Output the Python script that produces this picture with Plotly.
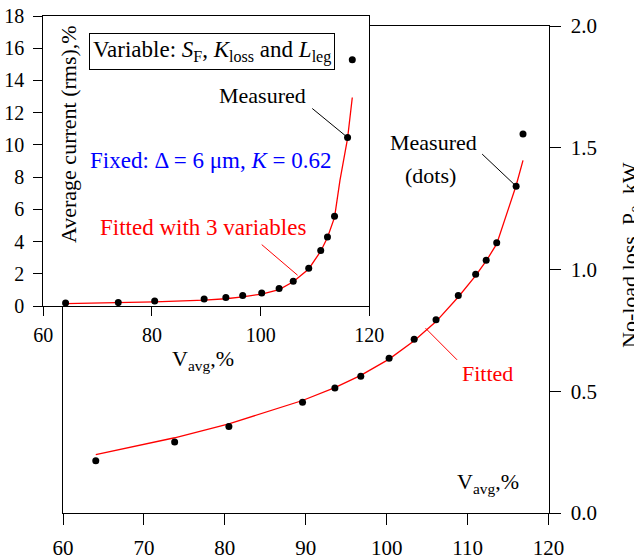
import plotly.graph_objects as go

# ---------------- data ----------------
# main plot: no-load loss P0 (kW) vs average voltage (%)
main_v = [64.05, 73.8, 80.5, 89.6, 93.6, 96.8, 100.3, 103.4, 106.1, 108.85, 111.0, 112.3, 113.6, 116.0, 116.85]
main_p = [0.215, 0.292, 0.355, 0.455, 0.513, 0.562, 0.636, 0.714, 0.794, 0.893, 0.980, 1.038, 1.110, 1.342, 1.556]
fit_v = [64.05, 73.8, 80.5, 89.6, 93.6, 96.8, 100.3, 103.4, 106.1, 108.85, 111.0, 112.3, 113.6, 116.0, 116.85]
fit_p = [0.240, 0.309, 0.366, 0.462, 0.515, 0.565, 0.632, 0.707, 0.786, 0.887, 0.975, 1.035, 1.105, 1.345, 1.448]

# inset: average current (rms, %) vs average voltage (%)
ins_v = [64.1, 73.8, 80.5, 89.6, 93.6, 96.7, 100.2, 103.4, 106.0, 108.85, 111.06, 112.3, 113.6, 116.0, 116.87]
ins_i = [0.19, 0.21, 0.31, 0.43, 0.52, 0.65, 0.81, 1.08, 1.53, 2.34, 3.44, 4.29, 5.57, 10.46, 15.28]
ins_fit_v = [64.1, 73.8, 80.5, 89.6, 93.6, 96.7, 100.2, 103.4, 106.0, 108.85, 111.06, 112.3, 113.6, 114.6, 116.0, 116.87]
ins_fit_i = [0.15, 0.19, 0.25, 0.36, 0.45, 0.57, 0.74, 1.02, 1.50, 2.30, 3.40, 4.25, 5.50, 7.8, 10.4, 12.94]

main_xticks = [60, 70, 80, 90, 100, 110, 120]
main_yticks = [0.0, 0.5, 1.0, 1.5, 2.0]
ins_xticks = [60, 80, 100, 120]
ins_yticks = [0, 2, 4, 6, 8, 10, 12, 14, 16, 18]

W, H = 634, 560
FONT = "Liberation Serif, Times New Roman, DejaVu Serif, serif"
RED = "#FF0000"
BLUE = "#0000FF"


def px(x):
    return x / W


def py(y):
    return 1 - y / H


fig = go.Figure()

# main traces
fig.add_trace(go.Scatter(x=fit_v, y=fit_p, mode="lines", line=dict(color=RED, width=1.3),
                         xaxis="x", yaxis="y", showlegend=False))
fig.add_trace(go.Scatter(x=main_v, y=main_p, mode="markers", marker=dict(color="black", size=7),
                         xaxis="x", yaxis="y", showlegend=False))
# inset traces
fig.add_trace(go.Scatter(x=ins_fit_v, y=ins_fit_i, mode="lines", line=dict(color=RED, width=1.3),
                         xaxis="x2", yaxis="y2", showlegend=False))
fig.add_trace(go.Scatter(x=ins_v, y=ins_i, mode="markers", marker=dict(color="black", size=7),
                         xaxis="x2", yaxis="y2", showlegend=False))

axis_common = dict(showline=True, linecolor="black", linewidth=1, mirror=True, ticks="outside",
                   tickcolor="black", tickwidth=1, showgrid=False, zeroline=False, automargin=False)

fig.update_layout(
    width=W, height=H, autosize=False,
    margin=dict(l=0, r=0, t=0, b=0, pad=0, autoexpand=False),
    paper_bgcolor="white", plot_bgcolor="white",
    font=dict(family=FONT, color="black", size=21),
    xaxis=dict(domain=[px(63), px(548.5)], range=[60, 120], tickvals=main_xticks, ticklen=11,
               tickfont=dict(size=21, family=FONT), ticklabelstandoff=5, anchor="y", **axis_common),
    yaxis=dict(domain=[py(513), py(26)], range=[0, 2], tickvals=main_yticks, tickformat=".1f", ticklen=11,
               side="right", tickfont=dict(size=21, family=FONT), ticklabelstandoff=6, anchor="x",
               **axis_common),
    xaxis2=dict(domain=[px(43.3), px(369.3)], range=[60, 120], tickvals=ins_xticks, ticklen=9,
                tickfont=dict(size=20, family=FONT), ticklabelstandoff=2, anchor="y2", **axis_common),
    yaxis2=dict(domain=[py(306), py(16)], range=[0, 18], tickvals=ins_yticks, ticklen=9,
                tickfont=dict(size=20, family=FONT), ticklabelstandoff=5, anchor="x2", **axis_common),
)

ann = []


def text(x, y, t, size=23, color="black", **kw):
    d = dict(x=px(x), y=py(y), xref="paper", yref="paper", text=t, showarrow=False,
             font=dict(family=FONT, size=size, color=color), xanchor="center", yanchor="middle")
    d.update(kw)
    ann.append(d)


# inset texts
text(212, 51, "Variable: <i>S</i><sub>F</sub>, <i>K</i><sub>loss</sub> and <i>L</i><sub>leg</sub>",
     bordercolor="black", borderwidth=1, borderpad=3, bgcolor="white")
text(262, 95, "Measured", size=22)
text(211, 160, "Fixed: Δ = 6 μm, <i>K</i> = 0.62", color=BLUE)
text(203, 227, "Fitted with 3 variables", color=RED)
text(68, 134, "Average current (rms),%", size=22, textangle=-90)
text(203, 360, "V<sub>avg</sub>,%", size=22)

# main texts
text(433, 142, "Measured", size=22)
text(430, 175, "(dots)", size=22)
text(487, 373, "Fitted", size=22, color=RED)
text(488, 483, "V<sub>avg</sub>,%", size=22)
text(631, 255, "No-load loss, P<sub>0</sub>, kW", size=22, textangle=-90)

fig.update_layout(annotations=ann)

# leader lines (data coordinates)
shapes = [
    dict(type="line", xref="x", yref="y", x0=111.8, y0=1.474, x1=main_v[13], y1=main_p[13],
         line=dict(color="black", width=1)),
    dict(type="line", xref="x", yref="y", x0=108.7, y0=0.629, x1=104.8, y1=0.759,
         line=dict(color=RED, width=1)),
    dict(type="line", xref="x2", yref="y2", x0=109.5, y0=12.26, x1=ins_v[13], y1=ins_i[13],
         line=dict(color="black", width=1)),
    dict(type="line", xref="x2", yref="y2", x0=100.2, y0=3.81, x1=106.8, y1=1.91,
         line=dict(color=RED, width=1)),
]
fig.update_layout(shapes=shapes)

fig.write_html("out.html", include_plotlyjs=True, full_html=True)
